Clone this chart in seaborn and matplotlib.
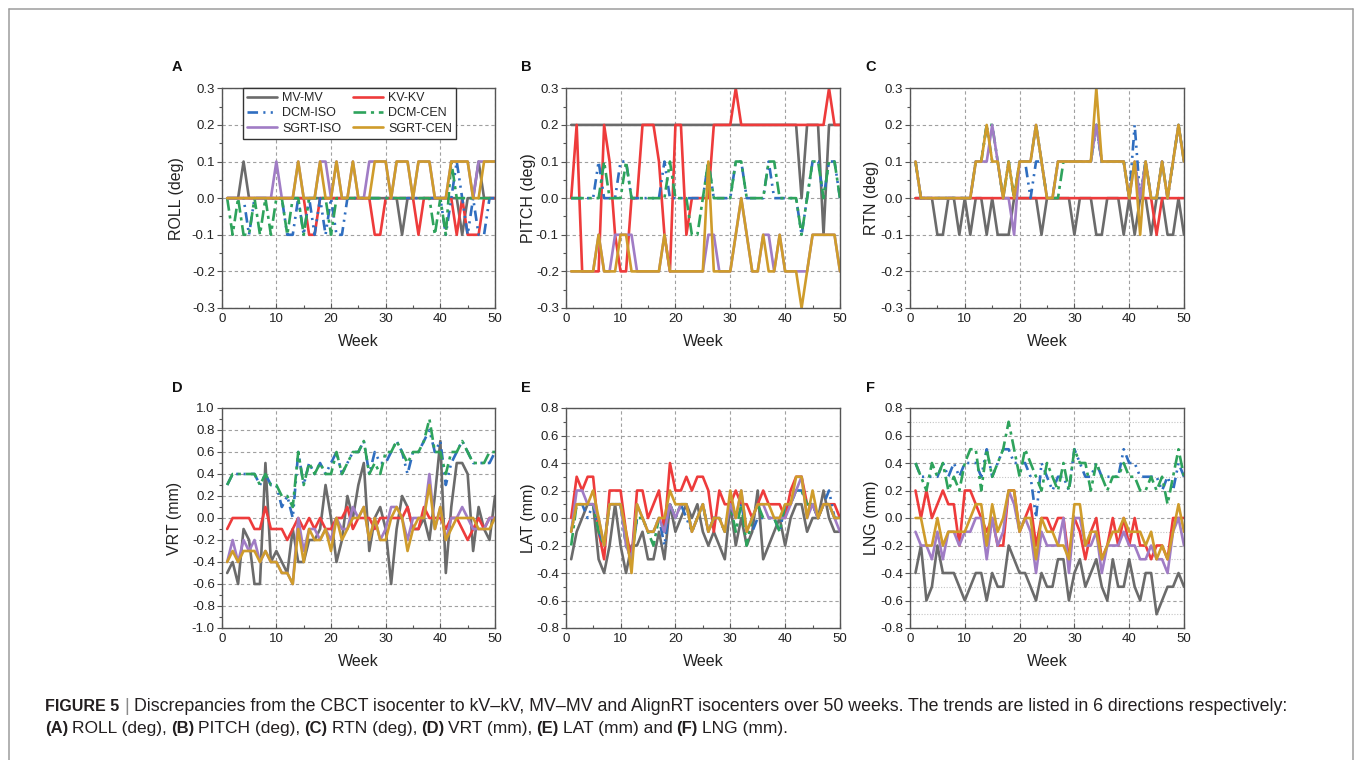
import matplotlib
matplotlib.use('Agg')
import matplotlib.pyplot as plt
from matplotlib.lines import Line2D
from matplotlib.ticker import MultipleLocator, FormatStrFormatter
import pandas as pd
import seaborn as sns

W, H = 1355, 760

weeks = list(range(1, 51))
series_names = ['MV-MV', 'KV-KV', 'DCM-ISO', 'DCM-CEN', 'SGRT-ISO', 'SGRT-CEN']
series_colors = ['#6b6b6b', '#ee3b3b', '#2f6ec0', '#2ea35c', '#a07cc5', '#cf9c2b']
series_dashes = ['', '', (4, 2, 0.8, 2, 0.8, 2), (4.8, 1.8, 1.2, 1.8), '', '']

# ---- A: ROLL (deg)
roll_mv = [0, 0, 0, 0.1, 0, 0, 0, 0, 0, 0,
           0, 0, 0, 0, 0, 0, 0, 0, 0, 0,
           0, 0, 0, 0, 0, 0, 0, 0, 0, 0,
           0, 0, -0.1, 0, 0, 0, 0, 0, 0, 0,
           0, 0, 0, -0.1, 0, 0, 0.1, 0, 0, 0]
roll_kv = [0, 0, 0, 0, 0, 0, 0, 0, 0, 0,
           0, 0, 0, 0, 0, -0.1, -0.1, 0, 0, 0,
           0, 0, 0, 0, 0, 0, 0, -0.1, -0.1, 0,
           0, 0, 0, 0, 0, -0.1, 0, 0, 0, 0,
           0, 0, -0.1, 0, -0.1, -0.1, -0.1, 0, 0, 0]
roll_dcm_iso = [0, 0, 0, 0, -0.1, 0, 0, 0, 0, 0,
                0, -0.1, -0.1, 0, -0.1, 0, -0.1, 0, -0.1, 0,
                -0.1, -0.1, 0, 0, 0, 0, 0, 0, 0, 0,
                0, 0, 0, 0, 0, 0, 0, 0, 0, 0,
                -0.1, 0, 0.1, 0, -0.1, 0, -0.1, -0.1, 0, 0]
roll_dcm_cen = [0, -0.1, 0, -0.1, -0.1, 0, -0.1, 0, -0.1, 0,
                0, -0.1, 0, 0, -0.1, 0, 0, 0, 0, -0.1,
                0, 0, 0, 0, 0, 0, 0, 0, 0, 0,
                0, 0, 0, 0, 0, 0, 0, 0, -0.1, 0,
                -0.1, 0.1, 0, 0, 0, 0, 0, 0, 0, 0]
roll_sgrt_iso = [0, 0, 0, 0, 0, 0, 0, 0, 0, 0.1,
                 0, 0, 0, 0.1, 0, 0, 0, 0.1, 0.1, 0,
                 0.1, 0, 0, 0.1, 0, 0, 0.1, 0.1, 0.1, 0.1,
                 0, 0.1, 0.1, 0.1, 0, 0.1, 0.1, 0.1, 0, 0,
                 0, 0.1, 0.1, 0.1, 0.1, 0, 0.1, 0.1, 0.1, 0.1]
roll_sgrt_cen = [0, 0, 0, 0, 0, 0, 0, 0, 0, 0,
                 0, 0, 0, 0.1, 0, 0, 0, 0.1, 0, 0,
                 0.1, 0, 0, 0.1, 0, 0, 0, 0.1, 0.1, 0.1,
                 0, 0.1, 0.1, 0.1, 0, 0.1, 0.1, 0.1, 0, 0,
                 0, 0.1, 0.1, 0.1, 0.1, 0, 0, 0.1, 0.1, 0.1]

# ---- B: PITCH (deg)
pitch_mv = [0.2] * 10 + [0.2] * 10 + [0.2] * 10 + [0.2] * 10 + \
           [0.2, 0.2, 0, 0.2, 0.2, 0.2, -0.1, 0.2, 0.2, 0.2]
pitch_kv = [0, 0.2, -0.2, -0.2, -0.2, -0.2, 0.2, 0.1, -0.1, -0.2,
            -0.2, 0, 0, 0.2, 0.2, 0.2, 0.1, -0.1, -0.2, 0.2,
            0.2, -0.1, 0, 0, 0, 0, 0.2, 0.2, 0.2, 0.2,
            0.3, 0.2, 0.2, 0.2, 0.2, 0.2, 0.2, 0.2, 0.2, 0.2,
            0.2, 0.2, 0.2, 0.2, 0.2, 0.2, 0.2, 0.3, 0.2, 0.2]
pitch_dcm_iso = [0, 0, 0, 0, 0, 0.1, 0, 0, 0, 0.1,
                 0.1, 0, 0, 0, 0, 0, 0, 0.1, 0, 0,
                 0, 0, 0, 0, 0, 0.1, 0, 0, 0, 0,
                 0.1, 0.1, 0, 0, 0, 0, 0.1, 0, 0, 0,
                 0, 0, -0.1, 0, 0.1, 0.1, 0, 0.1, 0.1, 0]
pitch_dcm_cen = [0, 0, 0, 0, 0, 0, 0.1, 0, 0, 0,
                 0.1, 0, 0, 0, 0, 0, 0, 0, 0.1, 0,
                 0, 0, -0.1, -0.1, 0, 0.1, 0, 0, 0, 0,
                 0.1, 0.1, 0, 0, 0, 0, 0.1, 0.1, 0, 0,
                 0, 0, -0.1, 0, 0.1, 0.1, 0, 0.1, 0.1, 0]
pitch_sgrt_iso = [-0.2, -0.2, -0.2, -0.2, -0.2, -0.1, -0.2, -0.2, -0.1, -0.1,
                  -0.1, -0.1, -0.2, -0.2, -0.2, -0.2, -0.2, -0.1, -0.2, -0.2,
                  -0.2, -0.2, -0.2, -0.2, -0.2, -0.1, -0.1, -0.2, -0.2, -0.2,
                  -0.1, 0.0, -0.1, -0.2, -0.2, -0.1, -0.1, -0.2, -0.1, -0.2,
                  -0.2, -0.2, -0.2, -0.2, -0.1, -0.1, -0.1, -0.1, -0.1, -0.2]
pitch_sgrt_cen = [-0.2, -0.2, -0.2, -0.2, -0.2, -0.1, -0.2, -0.2, -0.2, -0.1,
                  -0.1, -0.2, -0.2, -0.2, -0.2, -0.2, -0.2, -0.1, -0.2, -0.2,
                  -0.2, -0.2, -0.2, -0.2, -0.2, 0.1, -0.2, -0.2, -0.2, -0.2,
                  -0.1, 0.0, -0.1, -0.2, -0.2, -0.1, -0.2, -0.2, -0.1, -0.2,
                  -0.2, -0.2, -0.3, -0.2, -0.1, -0.1, -0.1, -0.1, -0.1, -0.2]

# ---- C: RTN (deg)
rtn_mv = [0, 0, 0, 0, -0.1, -0.1, 0, 0, -0.1, 0,
          -0.1, 0, 0, -0.1, 0, -0.1, -0.1, -0.1, 0, 0,
          0, 0, 0, -0.1, 0, 0, 0, 0, 0, -0.1,
          0, 0, 0, -0.1, -0.1, 0, 0, 0, -0.1, 0,
          -0.1, 0, 0, -0.1, 0, 0, -0.1, -0.1, 0, -0.1]
rtn_kv = [0] * 44 + [-0.1] + [0] * 5
rtn_dcm_iso = [0.1, 0, 0, 0, 0, 0, 0, 0, 0, 0,
               0, 0.1, 0.1, 0.2, 0.1, 0.1, 0, 0.1, 0, 0.1,
               0.1, 0, 0.1, 0.1, 0, 0, 0.1, 0.1, 0.1, 0.1,
               0.1, 0.1, 0.1, 0.2, 0.1, 0.1, 0.1, 0.1, 0.1, 0,
               0.2, 0, 0.1, 0, 0, 0.1, 0, 0.1, 0.2, 0.1]
rtn_dcm_cen = [0.1, 0, 0, 0, 0, 0, 0, 0, 0, 0,
               0, 0.1, 0.1, 0.2, 0.2, 0.1, 0, 0.1, 0, 0.1,
               0.1, 0.1, 0.2, 0.1, 0, 0, 0, 0.1, 0.1, 0.1,
               0.1, 0.1, 0.1, 0.2, 0.1, 0.1, 0.1, 0.1, 0.1, 0,
               0.1, 0, 0.1, 0, 0, 0.1, 0, 0.1, 0.2, 0.1]
rtn_sgrt_iso = [0.1, 0, 0, 0, 0, 0, 0, 0, 0, 0,
                0, 0.1, 0.1, 0.1, 0.2, 0.1, 0, 0, -0.1, 0.1,
                0.1, 0.1, 0.2, 0.1, 0, 0, 0.1, 0.1, 0.1, 0.1,
                0.1, 0.1, 0.1, 0.2, 0.1, 0.1, 0.1, 0.1, 0.1, 0,
                0.1, 0, 0.1, 0, 0, 0.1, 0, 0.1, 0.2, 0.1]
rtn_sgrt_cen = [0.1, 0, 0, 0, 0, 0, 0, 0, 0, 0,
                0, 0.1, 0.1, 0.2, 0.1, 0.1, 0, 0.1, 0, 0.1,
                0.1, 0.1, 0.2, 0.1, 0, 0, 0.1, 0.1, 0.1, 0.1,
                0.1, 0.1, 0.1, 0.3, 0.1, 0.1, 0.1, 0.1, 0.1, 0,
                0.1, -0.1, 0.1, 0, 0, 0.1, 0, 0.1, 0.2, 0.1]

# ---- D: VRT (mm)
vrt_mv = [-0.5, -0.4, -0.6, -0.1, -0.2, -0.6, -0.6, 0.5, -0.4, -0.3,
          -0.4, -0.5, -0.1, -0.4, -0.4, -0.2, -0.2, -0.1, 0.3, 0.0,
          -0.4, -0.2, 0.2, 0.0, 0.3, 0.5, -0.3, 0.0, 0.1, -0.1,
          -0.6, -0.1, 0.2, 0.1, -0.1, -0.1, 0.0, -0.2, 0.2, 0.7,
          -0.5, 0.1, 0.5, 0.5, 0.4, -0.3, 0.1, -0.1, -0.2, 0.2]
vrt_kv = [-0.1, 0, 0, 0, 0, -0.1, -0.1, 0.1, -0.1, -0.1,
          -0.1, -0.2, -0.1, 0, -0.1, 0, -0.1, 0, -0.1, -0.1,
          0, 0, 0.1, -0.1, 0, 0, 0, -0.1, 0, 0,
          0, 0, 0, 0.1, -0.1, -0.1, 0.1, 0, 0, 0,
          -0.1, 0, 0, -0.1, -0.2, -0.1, 0, -0.1, 0, 0]
vrt_dcm_iso = [0.3, 0.4, 0.4, 0.4, 0.4, 0.4, 0.3, 0.4, 0.3, 0.3,
               0.1, 0.2, 0.0, 0.6, 0.3, 0.5, 0.4, 0.5, 0.4, 0.5,
               0.6, 0.4, 0.5, 0.6, 0.6, 0.7, 0.4, 0.6, 0.5, 0.5,
               0.6, 0.7, 0.6, 0.4, 0.6, 0.6, 0.7, 0.8, 0.6, 0.7,
               0.3, 0.5, 0.6, 0.7, 0.6, 0.5, 0.5, 0.5, 0.5, 0.6]
vrt_dcm_cen = [0.3, 0.4, 0.4, 0.4, 0.4, 0.4, 0.3, 0.4, 0.3, 0.3,
               0.2, 0.2, 0.1, 0.6, 0.3, 0.5, 0.4, 0.5, 0.4, 0.4,
               0.6, 0.4, 0.5, 0.6, 0.6, 0.7, 0.4, 0.5, 0.4, 0.6,
               0.6, 0.7, 0.6, 0.5, 0.6, 0.6, 0.7, 0.9, 0.6, 0.6,
               0.4, 0.6, 0.6, 0.7, 0.6, 0.5, 0.5, 0.5, 0.6, 0.6]
vrt_sgrt_iso = [-0.4, -0.2, -0.4, -0.2, -0.3, -0.2, -0.4, -0.3, -0.4, -0.4,
                -0.5, -0.5, -0.6, 0.0, -0.3, -0.1, -0.1, -0.2, -0.1, -0.2,
                0.0, -0.1, -0.1, 0.1, 0.0, 0.1, -0.2, 0.0, -0.2, -0.1,
                0.1, 0.1, 0.0, -0.2, 0.0, 0.0, 0.0, 0.4, -0.1, 0.1,
                -0.2, 0.0, 0.0, 0.1, 0.0, -0.1, -0.1, -0.1, 0.0, 0.0]
vrt_sgrt_cen = [-0.4, -0.3, -0.4, -0.3, -0.3, -0.3, -0.4, -0.3, -0.4, -0.4,
                -0.5, -0.5, -0.6, -0.1, -0.4, -0.1, -0.2, -0.2, -0.1, -0.3,
                0.0, -0.2, -0.1, 0.0, 0.0, 0.1, -0.2, 0.0, -0.2, -0.2,
                0.0, 0.1, 0.0, -0.3, -0.1, 0.0, 0.0, 0.3, -0.1, 0.1,
                -0.2, -0.1, 0.0, 0.0, 0.0, 0.0, -0.1, -0.1, -0.1, 0.0]

# ---- E: LAT (mm)
lat_mv = [-0.3, -0.1, 0.0, 0.1, 0.1, -0.3, -0.4, -0.2, 0.1, -0.2,
          -0.4, -0.2, -0.2, -0.1, -0.3, -0.3, -0.1, -0.3, 0.1, -0.1,
          0.0, 0.1, 0.0, 0.1, -0.1, -0.2, -0.1, -0.2, -0.3, 0.1,
          -0.2, 0.0, -0.2, -0.1, 0.2, -0.3, -0.2, -0.1, 0.0, -0.2,
          0.0, 0.1, 0.1, -0.1, 0.0, 0.0, 0.2, 0.0, -0.1, -0.1]
lat_kv = [0.0, 0.3, 0.2, 0.3, 0.3, -0.1, -0.3, 0.2, 0.2, 0.2,
          -0.1, -0.3, 0.2, 0.2, 0.0, 0.1, 0.2, -0.1, 0.4, 0.2,
          0.2, 0.3, 0.2, 0.3, 0.3, 0.2, -0.1, 0.2, 0.1, 0.1,
          0.2, 0.1, 0.1, 0.0, 0.1, 0.2, 0.1, 0.1, 0.1, 0.0,
          0.2, 0.3, 0.3, 0.1, 0.1, 0.0, 0.1, 0.1, 0.1, 0.0]
lat_dcm_iso = [-0.1, 0.1, 0.1, 0.0, 0.1, -0.1, -0.2, 0.1, 0.1, 0.1,
               -0.2, -0.3, 0.0, 0.0, -0.1, -0.1, 0.0, -0.2, 0.1, 0.0,
               0.1, 0.0, -0.1, 0.0, 0.1, -0.1, 0.0, 0.0, -0.1, 0.1,
               0.0, 0.1, -0.1, -0.1, 0.0, 0.0, 0.0, 0.0, -0.1, 0.1,
               0.1, 0.2, 0.2, 0.1, 0.1, 0.0, 0.1, 0.2, 0.0, 0.0]
lat_dcm_cen = [-0.2, 0.1, 0.1, 0.1, 0.1, -0.1, -0.2, 0.1, 0.1, 0.1,
               -0.2, -0.3, 0.0, 0.0, -0.1, -0.2, 0.0, -0.1, 0.1, 0.0,
               0.1, 0.1, -0.1, 0.0, 0.1, -0.1, 0.0, 0.0, -0.1, 0.1,
               -0.1, 0.1, -0.2, 0.0, 0.1, 0.0, 0.0, 0.0, -0.1, 0.1,
               0.1, 0.2, 0.2, 0.1, 0.1, 0.0, 0.1, 0.1, 0.0, 0.0]
lat_sgrt_iso = [-0.1, 0.2, 0.2, 0.1, 0.1, 0.0, -0.2, 0.1, 0.1, 0.1,
                -0.2, -0.3, 0.1, 0.0, -0.1, -0.1, 0.0, -0.1, 0.1, 0.0,
                0.1, 0.1, -0.1, 0.0, 0.1, -0.1, 0.0, 0.0, -0.1, 0.1,
                0.0, 0.2, -0.1, 0.0, 0.1, 0.1, 0.0, 0.0, 0.0, 0.0,
                0.1, 0.2, 0.3, 0.0, 0.1, 0.0, 0.1, 0.1, 0.0, -0.1]
lat_sgrt_cen = [-0.1, 0.1, 0.1, 0.1, 0.2, 0.0, -0.2, 0.1, 0.1, 0.1,
                -0.1, -0.4, 0.1, 0.0, -0.1, -0.1, 0.0, 0.0, 0.2, 0.1,
                0.1, 0.1, -0.1, 0.0, 0.1, -0.1, 0.0, 0.0, -0.1, 0.2,
                0.0, 0.2, -0.1, 0.0, 0.1, 0.1, 0.1, 0.0, 0.0, 0.1,
                0.1, 0.3, 0.3, 0.0, 0.2, 0.0, 0.1, 0.1, 0.0, 0.0]

# ---- F: LNG (mm)
lng_mv = [-0.4, -0.2, -0.6, -0.5, -0.2, -0.4, -0.4, -0.4, -0.5, -0.6,
          -0.5, -0.4, -0.4, -0.6, -0.4, -0.5, -0.5, -0.2, -0.3, -0.4,
          -0.4, -0.5, -0.6, -0.4, -0.5, -0.5, -0.3, -0.3, -0.6, -0.4,
          -0.3, -0.5, -0.4, -0.3, -0.5, -0.6, -0.3, -0.5, -0.5, -0.3,
          -0.5, -0.6, -0.4, -0.4, -0.7, -0.6, -0.5, -0.5, -0.4, -0.5]
lng_kv = [0.2, 0.0, 0.2, 0.0, 0.1, 0.2, 0.1, 0.1, -0.2, 0.2,
          0.2, 0.1, 0.0, -0.1, 0.0, -0.2, -0.2, 0.2, 0.2, -0.1,
          0.0, 0.1, -0.2, 0.0, 0.0, -0.1, 0.0, 0.0, -0.3, 0.0,
          -0.1, -0.3, -0.1, 0.0, -0.3, -0.2, 0.0, -0.2, 0.0, -0.2,
          0.0, -0.2, -0.2, -0.3, -0.2, -0.2, -0.3, 0.0, 0.0, 0.0]
lng_dcm_iso = [0.4, 0.3, 0.3, 0.3, 0.3, 0.4, 0.3, 0.4, 0.3, 0.4,
               0.4, 0.4, 0.3, 0.5, 0.3, 0.4, 0.5, 0.5, 0.4, 0.4,
               0.4, 0.3, 0.0, 0.4, 0.3, 0.2, 0.3, 0.3, 0.2, 0.5,
               0.4, 0.3, 0.3, 0.4, 0.3, 0.3, 0.3, 0.3, 0.5, 0.4,
               0.4, 0.3, 0.3, 0.3, 0.3, 0.2, 0.3, 0.2, 0.4, 0.3]
lng_dcm_cen = [0.4, 0.3, 0.2, 0.4, 0.3, 0.4, 0.2, 0.3, 0.2, 0.4,
               0.5, 0.5, 0.2, 0.5, 0.3, 0.4, 0.5, 0.7, 0.5, 0.3,
               0.5, 0.4, 0.3, 0.2, 0.4, 0.3, 0.2, 0.4, 0.2, 0.5,
               0.4, 0.4, 0.2, 0.4, 0.3, 0.2, 0.3, 0.3, 0.4, 0.3,
               0.3, 0.2, 0.2, 0.3, 0.2, 0.3, 0.1, 0.3, 0.5, 0.3]
lng_sgrt_iso = [-0.1, -0.2, -0.2, -0.3, -0.1, -0.3, -0.1, -0.1, -0.2, -0.1,
                -0.1, 0.0, 0.0, -0.3, 0.0, -0.2, -0.1, 0.2, 0.1, -0.1,
                0.0, -0.1, -0.4, -0.1, -0.2, -0.2, -0.2, 0.0, -0.4, 0.0,
                0.0, -0.2, -0.2, -0.1, -0.4, -0.2, -0.2, -0.2, -0.1, -0.2,
                -0.2, -0.3, -0.3, -0.2, -0.3, -0.3, -0.4, -0.1, 0.0, -0.2]
lng_sgrt_cen = [0.0, 0.0, -0.2, -0.2, 0.0, -0.2, -0.1, -0.1, -0.1, -0.1,
                0.0, 0.1, 0.1, -0.2, 0.1, -0.1, 0.0, 0.2, 0.2, -0.1,
                0.0, 0.0, -0.3, 0.0, -0.1, -0.1, -0.2, -0.2, -0.3, 0.1,
                0.1, -0.2, -0.1, -0.1, -0.3, -0.2, -0.1, -0.1, 0.0, -0.1,
                -0.1, -0.1, -0.2, -0.1, -0.3, -0.2, -0.3, -0.1, 0.1, -0.1]

panel_letters = ['A', 'B', 'C', 'D', 'E', 'F']
panel_ylabels = ['ROLL (deg)', 'PITCH (deg)', 'RTN (deg)', 'VRT (mm)', 'LAT (mm)', 'LNG (mm)']
panel_series = [
    [roll_mv, roll_kv, roll_dcm_iso, roll_dcm_cen, roll_sgrt_iso, roll_sgrt_cen],
    [pitch_mv, pitch_kv, pitch_dcm_iso, pitch_dcm_cen, pitch_sgrt_iso, pitch_sgrt_cen],
    [rtn_mv, rtn_kv, rtn_dcm_iso, rtn_dcm_cen, rtn_sgrt_iso, rtn_sgrt_cen],
    [vrt_mv, vrt_kv, vrt_dcm_iso, vrt_dcm_cen, vrt_sgrt_iso, vrt_sgrt_cen],
    [lat_mv, lat_kv, lat_dcm_iso, lat_dcm_cen, lat_sgrt_iso, lat_sgrt_cen],
    [lng_mv, lng_kv, lng_dcm_iso, lng_dcm_cen, lng_sgrt_iso, lng_sgrt_cen],
]
panel_ylims = [(-0.3, 0.3), (-0.3, 0.3), (-0.3, 0.3), (-1.0, 1.0), (-0.8, 0.8), (-0.8, 0.8)]
panel_ysteps = [0.1, 0.1, 0.1, 0.2, 0.2, 0.2]

# layout in pixels (left, top, right, bottom) of each axes
col_x = [(221.7, 495.0), (565.7, 840.0), (910.0, 1184.0)]
row_y = [(88.3, 308.0), (408.0, 628.0)]
ylabel_x = [-0.165, -0.137, -0.14, -0.171, -0.135, -0.14]
letter_xy = [(172, 67), (521, 67), (865, 67), (172, 388), (521, 388), (866, 388)]

sns.set_style('ticks')
plt.rcParams['font.family'] = ['Liberation Sans', 'DejaVu Sans']
plt.rcParams['axes.unicode_minus'] = False

fig = plt.figure(figsize=(W / 100, H / 100), dpi=100)
fig.patch.set_facecolor('white')

palette = dict(zip(series_names, series_colors))
dash_map = dict(zip(series_names, series_dashes))
spine_col = '#555555'
grid_col = '#a0a0a0'

for i in range(6):
    r, c = divmod(i, 3)
    x0, x1 = col_x[c]
    y0, y1 = row_y[r]
    ax = fig.add_axes([x0 / W, 1 - y1 / H, (x1 - x0) / W, (y1 - y0) / H])

    df = pd.DataFrame({
        'Week': weeks * 6,
        'value': sum(panel_series[i], []),
        'series': [n for n in series_names for _ in weeks],
    })
    sns.lineplot(data=df, x='Week', y='value', hue='series', style='series',
                 hue_order=series_names, style_order=series_names,
                 palette=palette, dashes=dash_map, linewidth=1.9,
                 estimator=None, legend=False, ax=ax)

    lo, hi = panel_ylims[i]
    step = panel_ysteps[i]
    ax.set_xlim(0, 50)
    ax.set_ylim(lo, hi)
    ax.xaxis.set_major_locator(MultipleLocator(10))
    ax.xaxis.set_minor_locator(MultipleLocator(5))
    ax.yaxis.set_major_locator(MultipleLocator(step))
    ax.yaxis.set_minor_locator(MultipleLocator(step / 2))
    ax.yaxis.set_major_formatter(FormatStrFormatter('%.1f'))

    ax.grid(True, which='major', linestyle=(0, (3, 2.5)), color=grid_col, linewidth=0.8)
    if i == 5:
        ax.yaxis.grid(True, which='minor', linestyle=(0, (1, 1.5)), color='#c4c4c4', linewidth=0.8)
    ax.set_axisbelow(True)

    for s in ax.spines.values():
        s.set_visible(True)
        s.set_color(spine_col)
        s.set_linewidth(1.0)
    ax.tick_params(axis='x', which='major', direction='in', length=3.5, width=0.8,
                   color=spine_col, labelsize=9.5, labelcolor='#222222', pad=3.5)
    ax.tick_params(axis='x', which='minor', direction='in', length=2, width=0.8, color=spine_col)
    ax.tick_params(axis='y', which='major', direction='out', length=3.5, width=0.8,
                   color=spine_col, labelsize=9.5, labelcolor='#222222', pad=1.5)
    ax.tick_params(axis='y', which='minor', direction='out', length=2, width=0.8, color=spine_col)

    ax.set_xlabel('Week', fontsize=11.5, color='#222222')
    ax.set_ylabel(panel_ylabels[i], fontsize=11.5, color='#222222')
    ax.xaxis.set_label_coords(0.5, -0.118)
    ax.yaxis.set_label_coords(ylabel_x[i], 0.5)
    ax.yaxis.label.set_verticalalignment('center')

    lx, ly = letter_xy[i]
    fig.text(lx / W, 1 - ly / H, panel_letters[i], fontsize=10.5, fontweight='bold',
             ha='left', va='center', color='#111111')

    if i == 0:
        handles = []
        for n in series_names:
            h = Line2D([], [], color=palette[n], linewidth=1.9)
            if dash_map[n]:
                h.set_dashes(dash_map[n])
            handles.append(h)
        order = [0, 2, 4, 1, 3, 5]
        leg = ax.legend([handles[k] for k in order], [series_names[k] for k in order],
                        ncol=2, loc='upper left', bbox_to_anchor=(0.077, 1.0),
                        borderaxespad=0, fontsize=9.0, handlelength=2.4,
                        handletextpad=0.45, columnspacing=0.9, labelspacing=0.25,
                        borderpad=0.32, fancybox=False, framealpha=1, edgecolor='#333333')
        leg.get_frame().set_linewidth(1.0)

# outer frame (open at the bottom)
fx0, fy0, fx1 = 9 / W, 1 - 9 / H, 1353 / W
for xs, ys in [([fx0, fx0], [0, fy0]), ([fx0, fx1], [fy0, fy0]), ([fx1, fx1], [fy0, 0])]:
    fig.add_artist(Line2D(xs, ys, color='#9c9c9c', linewidth=1.1, transform=fig.transFigure))

# caption
renderer = fig.canvas.get_renderer()
cap_col = '#231f20'


def caption_line(parts, x_px, y_px):
    x = x_px
    for txt, weight, col, gap, size in parts:
        x += gap
        t = fig.text(x / W, 1 - y_px / H, txt, fontsize=size, fontweight=weight,
                     color=col, ha='left', va='baseline')
        x = t.get_window_extent(renderer).x1


caption_line([
    ('FIGURE 5', 'bold', cap_col, 0, 11.5),
    ('|', 'normal', '#8a8a8a', 5, 12.8),
    ('Discrepancies from the CBCT isocenter to kV\u2013kV, MV\u2013MV and AlignRT isocenters '
     'over 50 weeks. The trends are listed in 6 directions respectively:', 'normal', cap_col, 5, 12.8),
], 45, 711)
caption_line([
    ('(A)', 'bold', cap_col, 0, 12), ('ROLL (deg),', 'normal', cap_col, 4, 12.5),
    ('(B)', 'bold', cap_col, 4, 12), ('PITCH (deg),', 'normal', cap_col, 4, 12.5),
    ('(C)', 'bold', cap_col, 4, 12), ('RTN (deg),', 'normal', cap_col, 4, 12.5),
    ('(D)', 'bold', cap_col, 4, 12), ('VRT (mm),', 'normal', cap_col, 4, 12.5),
    ('(E)', 'bold', cap_col, 4, 12), ('LAT (mm) and', 'normal', cap_col, 4, 12.5),
    ('(F)', 'bold', cap_col, 4, 12), ('LNG (mm).', 'normal', cap_col, 4, 12.5),
], 45, 733)

fig.savefig('out.png', dpi=100)
